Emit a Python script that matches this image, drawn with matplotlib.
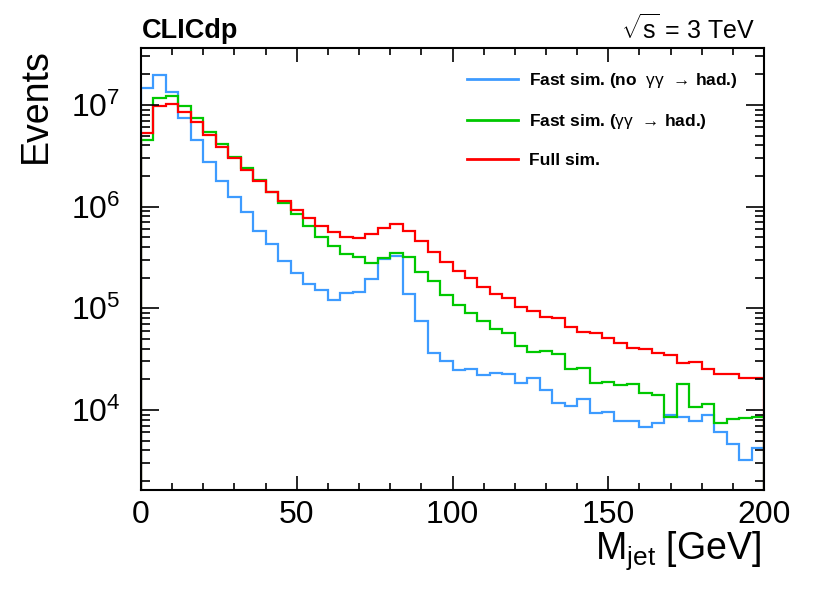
import matplotlib
matplotlib.use("Agg")
import matplotlib.pyplot as plt
import numpy as np
from matplotlib.ticker import LogLocator, MultipleLocator, NullFormatter, FixedLocator

plt.rcParams['font.family'] = ['Liberation Sans', 'DejaVu Sans']
plt.rcParams['mathtext.fontset'] = 'custom'
plt.rcParams['mathtext.rm'] = 'Liberation Sans'
plt.rcParams['mathtext.it'] = 'Liberation Sans:italic'
plt.rcParams['mathtext.bf'] = 'Liberation Sans:bold'

# ---- data: 50 bins of 4 GeV from 0 to 200 GeV ----
bin_edges = np.arange(0, 204, 4)

fast_no_gg = [1.46e7, 1.97e7, 1.33e7, 7.50e6, 4.53e6, 2.73e6, 1.78e6, 1.24e6, 8.81e5, 5.81e5,
              4.30e5, 2.94e5, 2.21e5, 1.74e5, 1.51e5, 1.21e5, 1.41e5, 1.44e5, 1.95e5, 3.06e5,
              3.27e5, 1.38e5, 7.57e4, 3.62e4, 3.04e4, 2.48e4, 2.52e4, 2.21e4, 2.30e4, 2.25e4,
              1.83e4, 2.05e4, 1.58e4, 1.17e4, 1.10e4, 1.28e4, 9.30e3, 9.51e3, 7.81e3, 7.81e3,
              6.78e3, 7.41e3, 8.95e3, 8.61e3, 7.81e3, 8.95e3, 6.05e3, 4.64e3, 3.23e3, 4.21e3]

fast_gg = [4.53e6, 1.16e7, 1.23e7, 9.84e6, 7.40e6, 5.39e6, 4.11e6, 3.10e6, 2.42e6, 1.83e6,
           1.39e6, 1.09e6, 8.53e5, 6.46e5, 5.01e5, 4.11e5, 3.40e5, 3.22e5, 2.81e5, 3.11e5,
           3.53e5, 3.18e5, 2.26e5, 1.86e5, 1.35e5, 1.08e5, 8.95e4, 7.52e4, 6.22e4, 5.69e4,
           4.30e4, 3.75e4, 3.84e4, 3.56e4, 2.54e4, 2.58e4, 1.83e4, 1.88e4, 1.77e4, 1.81e4,
           1.48e4, 1.41e4, 8.61e3, 1.81e4, 1.08e4, 1.14e4, 7.41e3, 8.11e3, 8.30e3, 8.61e3]

full_sim = [5.27e6, 9.77e6, 1.02e7, 8.60e6, 6.85e6, 5.07e6, 3.89e6, 3.03e6, 2.30e6, 1.79e6,
            1.40e6, 1.13e6, 9.28e5, 7.69e5, 6.49e5, 5.58e5, 5.07e5, 4.89e5, 5.39e5, 6.22e5,
            6.71e5, 5.81e5, 4.60e5, 3.61e5, 2.84e5, 2.33e5, 1.98e5, 1.63e5, 1.38e5, 1.26e5,
            1.04e5, 9.29e4, 8.28e4, 8.00e4, 6.61e4, 5.90e4, 5.69e4, 5.08e4, 4.60e4, 4.11e4,
            3.96e4, 3.62e4, 3.43e4, 2.92e4, 2.97e4, 2.54e4, 2.26e4, 2.26e4, 2.05e4, 2.08e4]

labels = [r"Fast sim. (no  $\mathrm{\gamma\gamma}$  → had.)",
          r"Fast sim. ($\mathrm{\gamma\gamma}$  → had.)",
          "Full sim."]
colors = ["#3d9bff", "#00c800", "#ff0000"]
x_ticks = [0, 50, 100, 150, 200]
y_ticks = [1e4, 1e5, 1e6, 1e7]
y_ticklabels = [r"$10^{4}$", r"$10^{5}$", r"$10^{6}$", r"$10^{7}$"]

fig = plt.figure(figsize=(8.3, 5.99), dpi=100)
ax = fig.add_axes([141/830, 1 - 490/599, (764-141)/830, (490-48)/599])

handles = []
for vals, lab, col in zip([fast_no_gg, fast_gg, full_sim], labels, colors):
    h = ax.stairs(vals, bin_edges, baseline=1.0, color=col, lw=1.6, label=lab)
    handles.append(h)

ax.set_yscale('log')
ax.set_xlim(0, 200)
ax.set_ylim(1630, 3.63e7)

ax.xaxis.set_major_locator(FixedLocator(x_ticks))
ax.xaxis.set_minor_locator(MultipleLocator(10))
ax.yaxis.set_major_locator(FixedLocator(y_ticks))
ax.set_yticklabels(y_ticklabels)
ax.yaxis.set_minor_locator(LogLocator(base=10, subs=np.arange(2, 10)))
ax.yaxis.set_minor_formatter(NullFormatter())

ax.tick_params(which='both', direction='in', top=True, right=True, width=1.2, labelsize=23)
ax.tick_params(axis='x', which='major', length=10, pad=7)
ax.tick_params(axis='x', which='minor', length=5)
ax.tick_params(axis='y', which='major', length=13, pad=15)
ax.tick_params(axis='y', which='minor', length=6.5)
for sp in ax.spines.values():
    sp.set_linewidth(1.5)

ax.set_xlabel(r"M$_{\mathrm{jet}}$ [GeV]", fontsize=27, loc='right')
ax.xaxis.set_label_coords(0.995, -0.09)
ax.set_ylabel("Events", fontsize=27, loc='top')
ax.yaxis.set_label_coords(-0.14, 1.0)

fig.text(141.5/830, 1 - 38.5/599, "CLICdp", fontsize=19.5, fontweight='bold', ha='left', va='baseline')
fig.text(755/830, 1 - 38.5/599, r"$\sqrt{\mathrm{s}}$ = 3 TeV", fontsize=18, ha='right', va='baseline')

leg = ax.legend(handles=handles, loc='upper left', bbox_to_anchor=(467/830, 1 - 71/599),
                bbox_transform=fig.transFigure, frameon=False, borderpad=0, borderaxespad=0,
                handlelength=2.95, handletextpad=0.6, labelspacing=1.26,
                prop={'size': 12.5, 'weight': 'bold'})
for line in leg.get_lines():
    line.set_linewidth(2.0)

fig.savefig("out.png", dpi=100)
